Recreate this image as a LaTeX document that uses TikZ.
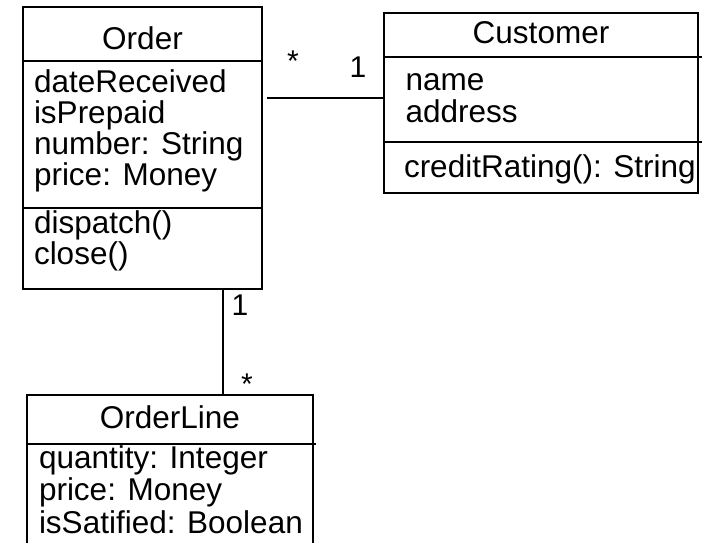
\documentclass[tikz,border=0pt]{standalone}
\usepackage{fontspec}
\setmainfont{Liberation Sans}
\begin{document}
\begin{tikzpicture}[x=1pt,y=-1pt,line width=2pt,
  box/.style={draw,line width=2pt,inner sep=0pt,outer sep=0pt,anchor=north west},
  txt/.style={inner sep=0pt,anchor=base west,font=\fontsize{31.5}{31}\selectfont},
  ttl/.style={inner sep=0pt,anchor=base,font=\fontsize{31.5}{31}\selectfont},
  mult/.style={inner sep=0pt,anchor=base,font=\fontsize{30}{36}\selectfont}]
\useasboundingbox (0,0) rectangle (704,542);
\clip (0,0) rectangle (704,542);
\fill[white] (0,0) rectangle (704,542);

% Order
\node[box,minimum width=239pt,minimum height=282pt] (order) at (23,7) {};
\draw (order.west |- 0,61) -- (order.east |- 0,61);
\draw (order.west |- 0,208) -- (order.east |- 0,208);
\node[ttl] (orderT) at (142.5,49) {Order};
\node[txt] (o1) at (33,92) {dateReceived};
\node[txt] (o2) at (33,123) {isPrepaid};
\node[txt] (o3) at (33,154) {number: String};
\node[txt] (o4) at (33,185) {price: Money};
\node[txt] (o5) at (33,233) {dispatch()};
\node[txt] (o6) at (33,264) {close()};

% Customer
\node[box,minimum width=314pt,minimum height=180pt] (cust) at (384,13) {};
\draw (cust.west |- 0,57) -- ([xshift=4pt]cust.east |- 0,57);
\draw (cust.west |- 0,142) -- ([xshift=4pt]cust.east |- 0,142);
\node[ttl] (custT) at (541,43) {Customer};
\node[txt] (c1) at (404.5,90) {name};
\node[txt] (c2) at (404.5,122) {address};
\node[txt] (c3) at (403,177) {creditRating(): String};

% OrderLine
\node[box,minimum width=286pt,minimum height=170pt] (oline) at (27,395) {};
\draw (oline.west |- 0,444) -- ([xshift=3pt]oline.east |- 0,444);
\node[ttl] (olineT) at (170,428) {OrderLine};
\node[txt] (l1) at (38,468) {quantity: Integer};
\node[txt] (l2) at (38,500.5) {price: Money};
\node[txt] (l3) at (38,533) {isSatified: Boolean};

% associations
\draw[shorten <=5pt] (order.east |- 0,98) -- (cust.west |- 0,98);
\draw (order.south -| 222.7,0) -- (oline.north -| 222.7,0);

% multiplicities
\node[mult] (m1) at (293,71) {*};
\node[mult] (m2) at (358,77) {1};
\node[mult] (m3) at (240,315) {1};
\node[mult] (m4) at (247,394) {*};
\end{tikzpicture}
\end{document}
